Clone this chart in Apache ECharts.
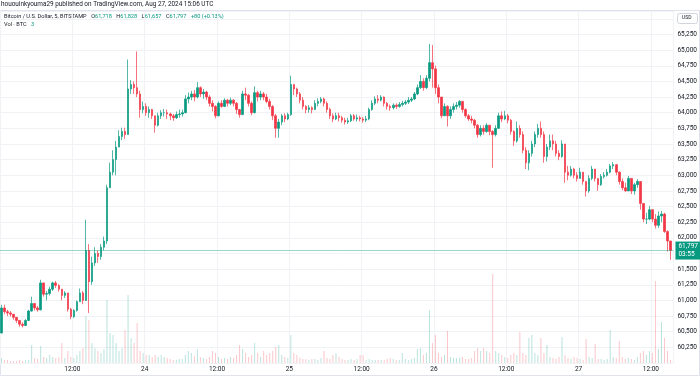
<!DOCTYPE html>
<html>
<head>
<meta charset="utf-8">
<script src="https://cdn.jsdelivr.net/npm/echarts@6/dist/echarts.min.js"></script>
<style>
html, body { margin: 0; padding: 0; background: #fff; }
#main { width: 700px; height: 376px; }
</style>
</head>
<body>
<div id="main"></div>
<script>
//*************** data (30 min bars) ***************
// bar i starts at Aug 23 00:00 UTC + i * 30 min
var first_open = 60480;
var closes = [
 60880,60820,60800,60780,60730,60680,60620,60600,60680,60830, 60950,60880,60850,61280,61100,61110,61180,61280,61240,61180,
 61080,61120,60860,60740,60840,60980,61120,61000,61800,61300, 61600,61750,61700,61850,61950,62800,63050,63250,63450,63620,
 63700,63650,64380,64450,64400,64300,64050,64100,64000,64050, 63950,63800,63950,64000,64000,63980,63950,63920,63970,63980,
 64000,64220,64250,64300,64250,64400,64300,64330,64250,64150, 64100,63950,64150,64100,64200,64150,64200,64150,64050,63970,
 64300,64280,64150,64000,64320,64250,64300,64250,64180,64100, 63950,63750,63850,63950,63900,63970,64450,64380,64300,64200,
 64100,64050,64080,64050,64150,64180,64220,64150,64050,63950, 63900,63950,63920,63880,63850,63870,63950,63900,63920,63900,
 63880,63900,64050,64150,64220,64200,64250,64150,64100,64080, 64120,64100,64130,64150,64170,64200,64220,64300,64400,64500,
 64400,64550,64800,64700,64400,64250,63950,64100,63950,64050, 64100,64120,64180,64050,63950,63900,63880,63800,63650,63750,
 63700,63800,63700,63650,63750,63950,63900,63950,63880,63700, 63550,63750,63650,63400,63200,63350,63500,63650,63750,63650,
 63300,63450,63550,63500,63350,63300,63500,63050,63000,63100, 63000,62950,63050,62900,62750,62950,63100,62950,62850,62980,
 63000,63050,63150,63170,63050,62900,62800,62750,62950,62750, 62850,62900,62550,62300,62300,62450,62300,62200,62350,62380,
 62100,61950,61797
];
var highs = [
 60930,60930,60850,60830,60780,60730,60680,60650,60700,60850, 61060,60960,60910,61330,61250,61150,61220,61300,61310,61260,
 61180,61150,61120,60880,60860,61000,61190,61150,62290,61900, 61700,61850,61800,61900,62020,62850,63200,63400,63550,63720,
 63760,63760,64850,64520,64500,64980,64350,64180,64150,64100, 64060,63950,64000,64040,64060,64050,64000,63980,64020,64050,
 64050,64280,64320,64350,64360,64490,64420,64380,64350,64280, 64200,64120,64180,64200,64230,64220,64240,64220,64170,64060,
 64350,64400,64300,64180,64420,64350,64350,64330,64300,64220, 64120,63980,63900,63980,63990,64000,64590,64450,64400,64330,
 64250,64120,64120,64100,64200,64230,64250,64240,64180,64080, 63990,64000,64000,63950,63920,63920,63980,63980,63970,63950,
 63930,63950,64080,64200,64260,64280,64280,64260,64170,64130, 64150,64150,64170,64190,64200,64250,64250,64330,64450,64600,
 64550,64600,65100,65080,64750,64450,64250,64150,64120,64100, 64150,64170,64200,64190,64070,63980,63950,63900,63820,63800,
 63800,63830,63800,63720,63800,64000,64020,64030,63980,63900, 63720,63860,63800,63700,63450,63400,63550,63700,63820,63860,
 63700,63500,63650,63650,63550,63400,63560,63500,63150,63150, 63120,63050,63120,63050,62900,63000,63150,63100,62950,63020,
 63050,63100,63180,63210,63180,63060,62950,62880,62990,62950, 62880,62940,62900,62550,62400,62510,62450,62380,62420,62430,
 62400,62120,61950
];
var lows = [
 60470,60780,60750,60740,60690,60640,60580,60570,60590,60670, 60820,60840,60820,60840,61060,61000,61080,61150,61200,61140,
 61000,61040,60820,60700,60720,60820,60980,60940,60990,60800, 61250,61550,61600,61650,61800,61900,62850,63000,63000,63500,
 63560,63580,63650,64300,64300,64250,63920,63990,63950,63920, 63900,63680,63780,63900,63940,63900,63880,63870,63900,63920,
 63940,63990,64150,64200,64180,64230,64250,64220,64200,64100, 64020,63910,63940,64080,64090,64100,64120,64100,63980,63920,
 63960,64200,64100,63960,63990,64180,64200,64200,64150,64050, 63880,63600,63600,63800,63850,63880,63950,64280,64250,64150,
 64050,63990,64000,63990,64050,64100,64150,64100,64000,63900, 63850,63880,63860,63840,63810,63820,63850,63870,63860,63860,
 63840,63850,63880,64030,64120,64150,64180,64100,64050,64030, 64050,64060,64080,64100,64120,64140,64170,64200,64280,64380,
 64350,64380,64500,64400,64300,64150,63910,63950,63780,63900, 64000,64050,64080,64000,63920,63870,63830,63750,63600,63620,
 63650,63680,63640,63120,63620,63740,63850,63880,63830,63650, 63470,63520,63600,63350,63100,63080,63300,63450,63600,63600,
 63200,63220,63400,63400,63300,63240,63280,62880,62920,62980, 62950,62900,62950,62850,62660,62720,62920,62900,62750,62830,
 62950,62980,63030,63100,63000,62850,62760,62740,62750,62700, 62690,62800,62450,62250,62220,62280,62250,62150,62160,62250,
 62080,61780,61650
];
var volumes = [
 5,3,3,2,2,2,3,2,3,3, 18,5,4,17,6,5,8,6,5,6,
 20,5,12,6,5,8,12,15,47,43, 20,15,12,10,14,63,30,28,20,12,
 15,33,68,25,20,40,12,10,8,8, 6,8,6,8,6,5,4,3,3,4,
 4,8,12,10,7,14,6,5,4,6, 12,10,6,4,5,4,6,5,8,18,
 14,10,6,8,20,10,6,12,8,10, 12,16,18,8,6,5,28,10,8,5,
 4,4,3,4,4,3,5,12,5,4, 8,10,6,4,3,3,4,3,4,8,
 8,3,4,3,3,3,3,3,4,5, 4,3,3,10,4,3,4,5,14,15,
 8,10,53,20,28,10,6,8,32,6, 5,5,5,6,4,4,5,12,15,12,
 15,12,10,89,12,10,8,6,5,8, 10,8,31,10,8,25,28,10,8,25,
 10,18,6,5,4,6,26,8,5,4, 6,5,4,3,24,6,5,19,4,4,
 3,4,33,6,5,22,6,4,5,4, 3,6,10,12,8,12,10,82,14,41,
 25,12,3
];
var day_labels = ['23', '24', '25', '26', '27'];
var last_o = 61718, last_h = 61828, last_l = 61657, last_c = 61797, last_vol = 3;

var up_color = '#089981';
var down_color = '#F23645';

//*************** build series ***************
var candle_data = [];
var volume_data = [];
var prev = first_open;
for (var i = 0; i < closes.length; i++) {
    var t = i * 0.5 + 0.25;
    var o = prev, c = closes[i];
    var h = Math.max(highs[i], o, c);
    var l = Math.min(lows[i], o, c);
    candle_data.push([t, o, c, l, h]);
    volume_data.push({
        value: [t, volumes[i]],
        itemStyle: {color: c >= o ? 'rgba(8,153,129,0.28)' : 'rgba(242,54,69,0.28)'}
    });
    prev = c;
}

function fmt(n) {
    return String(n).replace(/\B(?=(\d{3})+(?!\d))/g, ',');
}

var font = 'Roboto';
var txt_color = '#131722';
var leg_size = 5.6;
var leg_rich = {
    d: {fill: txt_color, fontSize: leg_size, fontFamily: font},
    sd: {fill: txt_color, fontSize: leg_size, fontFamily: font, padding: [0, 0, 0, 4.5]},
    g: {fill: up_color, fontSize: leg_size, fontFamily: font},
    sg: {fill: up_color, fontSize: leg_size, fontFamily: font, padding: [0, 0, 0, 4.5]}
};

//*************** chart ***************
var chart = echarts.init(document.getElementById('main'));
var option = {
    animation: false,
    backgroundColor: '#fff',
    textStyle: {fontFamily: font},
    grid: {left: 0, right: 26, top: 11, height: 352},
    xAxis: {
        type: 'value',
        min: 0,
        max: 111.74,
        interval: 12,
        axisLine: {show: false},
        axisTick: {show: false},
        splitLine: {show: true, lineStyle: {color: '#f0f2f6', width: 1}},
        axisLabel: {
            color: txt_color, fontSize: 6.5, margin: 3,
            showMinLabel: false, showMaxLabel: false,
            formatter: function (v) {
                if (v % 24 === 0) return day_labels[v / 24];
                if (v % 12 === 0) return '12:00';
                return '';
            }
        }
    },
    yAxis: [{
        type: 'value',
        position: 'right',
        min: 60000,
        max: 65625,
        interval: 250,
        axisLine: {show: false},
        axisTick: {show: false},
        splitLine: {lineStyle: {color: '#f0f2f6', width: 1}},
        axisLabel: {
            color: txt_color, fontSize: 6.5, margin: 4,
            formatter: function (v) {
                if (v % 250 !== 0 || v <= 60000 || v >= 65500) return '';
                return fmt(v);
            }
        }
    }, {
        type: 'value',
        min: 0,
        max: 352,
        show: false,
        splitLine: {show: false}
    }],
    series: [{
        type: 'bar',
        yAxisIndex: 1,
        barWidth: 1,
        data: volume_data,
        markLine: {
            silent: true,
            symbol: 'none',
            lineStyle: {opacity: 0},
            label: {
                position: 'end', distance: 2,
                formatter: String(last_vol),
                color: '#fff', backgroundColor: up_color,
                fontSize: 6.5, padding: [1, 3]
            },
            data: [{yAxis: last_vol}]
        }
    }, {
        type: 'candlestick',
        barWidth: 2,
        encode: {x: 0, y: [1, 2, 3, 4]},
        itemStyle: {
            color: up_color, color0: down_color,
            borderColor: up_color, borderColor0: down_color,
            borderWidth: 0.7
        },
        data: candle_data,
        markLine: {
            silent: true,
            symbol: 'none',
            lineStyle: {color: 'rgba(8,153,129,0.4)', width: 1, type: 'solid'},
            label: {
                position: 'end', distance: 2,
                formatter: fmt(last_c) + '\n03:55',
                color: '#fff', backgroundColor: up_color,
                fontSize: 6.5, lineHeight: 8, padding: [1, 3]
            },
            data: [{yAxis: last_c}]
        }
    }],
    graphic: [{
        type: 'rect', silent: true,
        shape: {x: 0.5, y: 10.5, width: 699, height: 365},
        style: {fill: 'none', stroke: '#e0e3eb', lineWidth: 1}
    }, {
        type: 'text', left: 1, top: 1.5, silent: true,
        style: {text: 'hououinkyouma29 published on TradingView.com, Aug 27, 2024 15:06 UTC',
            fill: txt_color, fontSize: 6.4, fontFamily: font}
    }, {
        type: 'text', left: 4, top: 13.5, silent: true,
        style: {
            text: '{d|Bitcoin / U.S. Dollar, 5, BITSTAMP}{sd|O}{g|' + fmt(last_o) + '}{sd|H}{g|' + fmt(last_h) +
                '}{sd|L}{g|' + fmt(last_l) + '}{sd|C}{g|' + fmt(last_c) + '}{sg|+80 (+0.13%)}',
            fontSize: leg_size, fontFamily: font,
            rich: leg_rich
        }
    }, {
        type: 'text', left: 4, top: 21.5, silent: true,
        style: {
            text: '{d|Vol · BTC}{sg|' + last_vol + '}',
            fontSize: leg_size, fontFamily: font,
            rich: leg_rich
        }
    }, {
        type: 'rect', silent: true,
        shape: {x: 677.5, y: 13.5, width: 20, height: 10, r: 2},
        style: {fill: '#fff', stroke: '#d1d4dc', lineWidth: 1}
    }, {
        type: 'text', left: 682, top: 15.5, silent: true,
        style: {text: 'USD', fill: txt_color, fontSize: 5, fontFamily: font}
    }]
};
chart.setOption(option);
</script>
</body>
</html>
